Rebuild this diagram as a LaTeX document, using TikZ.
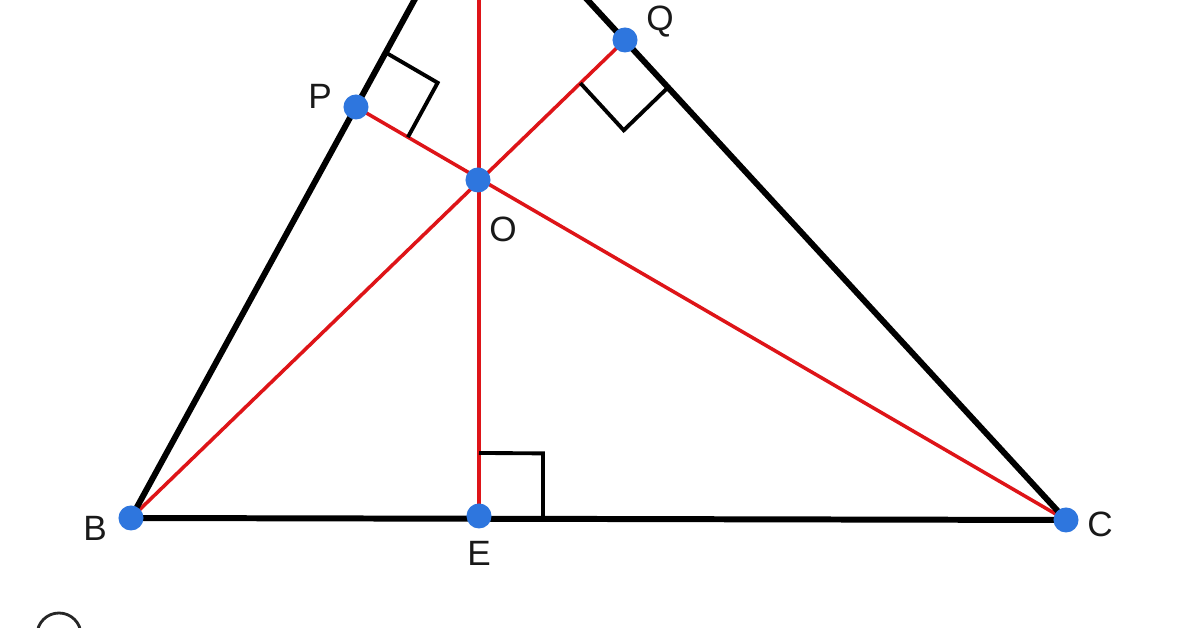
\documentclass[tikz,border=0pt]{standalone}
\usepackage{fontspec}
\setmainfont{Liberation Sans}
\usetikzlibrary{calc}
\definecolor{dotblue}{RGB}{46,118,222}
\definecolor{linered}{RGB}{222,20,24}
\tikzset{
  side/.style={line width=1.7pt,black},
  redline/.style={line width=1pt,linered},
  ramark/.style={line width=1.1pt,black,line join=miter},
  dot/.style={circle,fill=dotblue,inner sep=0pt,minimum size=0.25cm},
  lbl/.style={font=\fontsize{10}{11}\selectfont,text=black!90,inner sep=0pt}
}
\begin{document}
\begin{tikzpicture}[x=0.01cm,y=-0.01cm]
\useasboundingbox (0,0) rectangle (1196,628);
\fill[white] (0,0) rectangle (1196,628);
\begin{scope}
\clip (0,0) rectangle (1196,628);
% points
\coordinate (A) at (479,-118);
\coordinate (B) at (131,518);
\coordinate (C) at (1066,520);
\coordinate (E) at (479,516);
\coordinate (O) at (478,180);
\coordinate (P) at (356,107);
\coordinate (Q) at (625,40);
% red lines
\draw[redline] (E) -- (A);
\draw[redline] (B) -- (Q);
\draw[redline] (C) -- (P);
% right angle markers
\coordinate (e1) at ($(E)!0.63cm!(A)$);
\coordinate (e2) at ($(E)!0.64cm!(C)$);
\draw[ramark] (e1) -- ($(e1)+(e2)-(E)$) -- (e2);
\coordinate (p1) at ($(P)!0.62cm!(A)$);
\coordinate (p2) at ($(P)!0.6cm!(C)$);
\draw[ramark] (p1) -- ($(p1)+(p2)-(P)$) -- (p2);
\coordinate (q1) at ($(Q)!0.62cm!(B)$);
\coordinate (q2) at ($(Q)!0.64cm!(C)$);
\draw[ramark] (q1) -- ($(q1)+(q2)-(Q)$) -- (q2);
% triangle
\draw[side,line join=round] (A) -- (B) -- (C) -- cycle;
% dots
\foreach \p in {B,C,E,O,P,Q} \node[dot] (d\p) at (\p) {};
% bottom partial icon
\draw[line width=0.8pt,black!85] (59,635) circle (22);
\end{scope}
% labels
\node[lbl] (lP) at (320,96) {P};
\node[lbl] (lQ) at (660,22) {Q};
\node[lbl] (lO) at (503,229) {O};
\node[lbl] (lE) at (479,553) {E};
\node[lbl] (lB) at (95,528) {B};
\node[lbl] (lC) at (1100,524) {C};
\end{tikzpicture}
\end{document}
